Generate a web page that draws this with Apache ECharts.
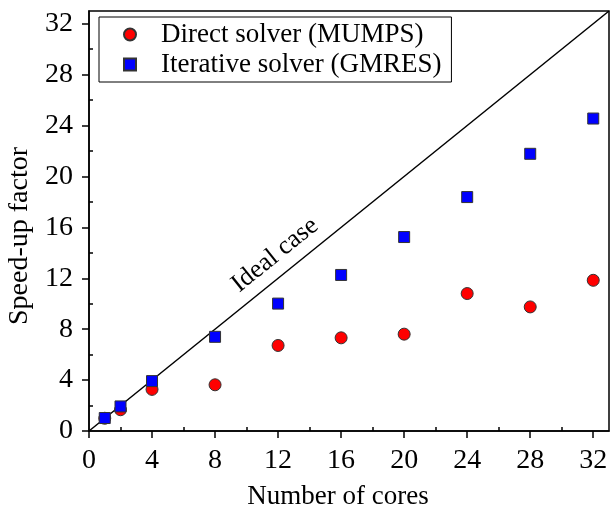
<!DOCTYPE html>
<html>
<head>
<meta charset="utf-8">
<script src="https://cdn.jsdelivr.net/npm/echarts@6/dist/echarts.min.js"></script>
<style>
  html, body { margin: 0; padding: 0; background: #fff; }
  #main { width: 610px; height: 508px; }
</style>
</head>
<body>
<div id="main"></div>
<script>
// speed-up vs cores
var cores = [1, 2, 4, 8, 12, 16, 20, 24, 28, 32];
var directSpeedup = [1.0, 1.67, 3.27, 3.63, 6.72, 7.32, 7.61, 10.8, 9.75, 11.84];
var iterativeSpeedup = [1.02, 1.93, 3.92, 7.40, 10.01, 12.26, 15.24, 18.38, 21.78, 24.55];
var idealCores = [0, 33];
var majorTicks = [0, 4, 8, 12, 16, 20, 24, 28, 32];
var minorTicks = [2, 6, 10, 14, 18, 22, 26, 30];
var axisMax = 33;

var font = 'Liberation Serif';

function pairs(xs, ys) {
    return xs.map(function (x, i) { return [x, ys[i]]; });
}

function mainAxis(name, gap) {
    return {
        type: 'value', min: 0, max: axisMax,
        name: name, nameLocation: 'middle', nameGap: gap,
        nameTextStyle: { fontFamily: font, fontSize: 27, color: '#000' },
        axisLine: { show: true, onZero: false, lineStyle: { color: '#000', width: 1.5 } },
        axisTick: { show: true, length: 7, customValues: majorTicks, lineStyle: { color: '#000', width: 1.5 } },
        axisLabel: { customValues: majorTicks, fontFamily: font, fontSize: 28, color: '#000', margin: 16 },
        splitLine: { show: false }
    };
}

function minorAxis() {
    return {
        type: 'value', min: 0, max: axisMax,
        axisLine: { show: false },
        axisTick: { show: true, length: 4, customValues: minorTicks, lineStyle: { color: '#000', width: 1.5 } },
        axisLabel: { show: false },
        splitLine: { show: false }
    };
}

var xMain = mainAxis('Number of cores', 52);
xMain.nameTextStyle.padding = [0, 22, 0, 0];
var yMain = mainAxis('Speed-up factor', 51);
yMain.nameTextStyle.fontSize = 28;
yMain.nameTextStyle.padding = [0, 30, 0, 0];
yMain.axisLabel.margin = 16;

var option = {
    animation: false,
    grid: {
        left: 89, right: 1, top: 11, bottom: 77,
        outerBoundsMode: 'none',
        show: true, borderColor: '#000', borderWidth: 1.5, backgroundColor: 'transparent'
    },
    xAxis: [xMain, minorAxis()],
    yAxis: [yMain, minorAxis()],
    legend: {
        orient: 'vertical', left: 99, top: 17,
        backgroundColor: '#fff',
        borderColor: '#000', borderWidth: 1, borderRadius: 0,
        padding: [4, 10, 4, 24],
        itemGap: 3, itemWidth: 12, itemHeight: 12,
        textStyle: { fontFamily: font, fontSize: 27, color: '#000', padding: [0, 0, 0, 20] },
        data: [
            { name: 'Direct solver (MUMPS)', icon: 'circle' },
            { name: 'Iterative solver (GMRES)', icon: 'rect' }
        ]
    },
    series: [
        {
            name: 'Ideal case', type: 'line',
            data: pairs(idealCores, idealCores),
            symbol: 'none', clip: true,
            lineStyle: { color: '#000', width: 1.5 },
            z: 1
        },
        {
            name: 'Direct solver (MUMPS)', type: 'scatter',
            data: pairs(cores, directSpeedup),
            symbol: 'circle', symbolSize: 12,
            itemStyle: { color: '#ff0000', borderColor: '#333', borderWidth: 1, opacity: 1 },
            z: 2
        },
        {
            name: 'Iterative solver (GMRES)', type: 'scatter',
            data: pairs(cores, iterativeSpeedup),
            symbol: 'rect', symbolSize: 11,
            itemStyle: { color: '#0000ff', borderColor: '#333', borderWidth: 1, opacity: 1 },
            z: 3
        }
    ]
};

var chart = echarts.init(document.getElementById('main'));
chart.setOption(option);

// "Ideal case" label sits along the diagonal
var a = chart.convertToPixel({ xAxisIndex: 0, yAxisIndex: 0 }, [0, 0]);
var b = chart.convertToPixel({ xAxisIndex: 0, yAxisIndex: 0 }, [32, 32]);
var ang = Math.atan2(a[1] - b[1], b[0] - a[0]);
var p = chart.convertToPixel({ xAxisIndex: 0, yAxisIndex: 0 }, [12.6, 12.6]);
var off = 7;
chart.setOption({
    graphic: [{
        type: 'text',
        x: p[0] - off * Math.sin(ang),
        y: p[1] - off * Math.cos(ang),
        rotation: ang,
        z: 10,
        style: {
            text: 'Ideal case',
            fontFamily: font, fontSize: 26, fill: '#000',
            align: 'center', verticalAlign: 'bottom',
            textAlign: 'center', textVerticalAlign: 'bottom'
        }
    }]
});
</script>
</body>
</html>
